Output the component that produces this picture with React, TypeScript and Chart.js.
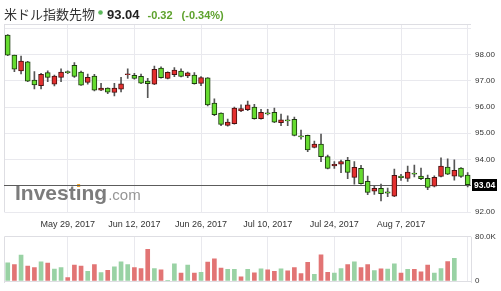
import { useEffect, useRef } from "react";
import { Chart, registerables } from "chart.js";

Chart.register(...registerables);

const TITLE = "米ドル指数先物";
const LAST_PRICE = 93.04;
const CHANGE = "-0.32";
const CHANGE_PCT = "(-0.34%)";

const DATES = [
  "May 16, 2017", "May 17, 2017", "May 18, 2017", "May 19, 2017", "May 22, 2017", "May 23, 2017", "May 24, 2017", "May 25, 2017", "May 26, 2017", "May 29, 2017",
  "May 30, 2017", "May 31, 2017", "Jun 1, 2017", "Jun 2, 2017", "Jun 5, 2017", "Jun 6, 2017", "Jun 7, 2017", "Jun 8, 2017", "Jun 9, 2017", "Jun 12, 2017",
  "Jun 13, 2017", "Jun 14, 2017", "Jun 15, 2017", "Jun 16, 2017", "Jun 19, 2017", "Jun 20, 2017", "Jun 21, 2017", "Jun 22, 2017", "Jun 23, 2017", "Jun 26, 2017",
  "Jun 27, 2017", "Jun 28, 2017", "Jun 29, 2017", "Jun 30, 2017", "Jul 3, 2017", "Jul 4, 2017", "Jul 5, 2017", "Jul 6, 2017", "Jul 7, 2017", "Jul 10, 2017",
  "Jul 11, 2017", "Jul 12, 2017", "Jul 13, 2017", "Jul 14, 2017", "Jul 17, 2017", "Jul 18, 2017", "Jul 19, 2017", "Jul 20, 2017", "Jul 21, 2017", "Jul 24, 2017",
  "Jul 25, 2017", "Jul 26, 2017", "Jul 27, 2017", "Jul 28, 2017", "Jul 31, 2017", "Aug 1, 2017", "Aug 2, 2017", "Aug 3, 2017", "Aug 4, 2017", "Aug 7, 2017",
  "Aug 8, 2017", "Aug 9, 2017", "Aug 10, 2017", "Aug 11, 2017", "Aug 14, 2017", "Aug 15, 2017", "Aug 16, 2017", "Aug 17, 2017", "Aug 18, 2017", "Aug 21, 2017",
];

const OPEN = [
  98.74, 97.98, 97.38, 97.72, 97.03, 96.81, 97.31, 96.87, 97.13, 97.35,
  97.59, 97.33, 96.94, 97.18, 96.64, 96.72, 96.56, 96.68, 97.23, 97.21,
  97.17, 96.99, 96.87, 97.48, 97.09, 97.23, 97.37, 97.19, 97.22, 96.90,
  97.11, 96.15, 95.77, 95.30, 95.37, 95.85, 95.90, 96.00, 95.56, 95.78,
  95.80, 95.40, 95.51, 95.53, 94.90, 94.92, 94.46, 94.59, 94.11, 93.76,
  93.82, 93.97, 93.32, 93.66, 93.17, 92.79, 92.90, 92.77, 92.60, 93.37,
  93.28, 93.48, 93.37, 93.28, 92.98, 93.36, 93.71, 93.37, 93.67, 93.41,
];
const HIGH = [
  98.76, 97.98, 97.94, 97.74, 97.35, 97.28, 97.38, 97.22, 97.46, 97.38,
  97.69, 97.37, 97.26, 97.25, 96.90, 96.73, 96.90, 97.13, 97.46, 97.28,
  97.26, 97.09, 97.56, 97.53, 97.34, 97.50, 97.46, 97.33, 97.31, 97.16,
  97.12, 96.31, 95.78, 95.54, 96.00, 96.08, 96.23, 96.10, 95.91, 95.91,
  95.96, 95.73, 95.66, 95.62, 95.12, 94.93, 94.70, 94.97, 94.17, 93.92,
  93.98, 94.08, 93.92, 93.78, 93.37, 93.00, 93.06, 92.91, 93.64, 93.44,
  93.75, 93.79, 93.67, 93.41, 93.38, 94.06, 94.03, 93.99, 93.69, 93.50,
];
const LOW = [
  97.96, 97.35, 97.26, 96.97, 96.69, 96.69, 96.97, 96.80, 96.97, 97.27,
  97.13, 96.82, 96.87, 96.61, 96.62, 96.51, 96.42, 96.58, 97.09, 97.06,
  96.89, 96.36, 96.85, 97.10, 97.07, 97.16, 97.15, 97.12, 96.87, 96.81,
  96.04, 95.67, 95.29, 95.27, 95.35, 95.82, 95.86, 95.54, 95.54, 95.70,
  95.40, 95.29, 95.29, 94.90, 94.78, 94.30, 94.44, 93.92, 93.64, 93.66,
  93.50, 93.27, 93.06, 93.06, 92.66, 92.67, 92.42, 92.58, 92.58, 93.20,
  93.17, 93.34, 93.23, 92.85, 92.96, 93.34, 93.42, 93.21, 93.32, 92.96,
];
const CLOSE = [
  97.98, 97.44, 97.75, 96.99, 96.84, 97.25, 97.13, 97.18, 97.33, 97.31,
  97.17, 96.83, 97.13, 96.64, 96.72, 96.57, 96.72, 96.88, 97.27, 97.09,
  96.91, 96.89, 97.44, 97.12, 97.32, 97.41, 97.17, 97.30, 96.89, 97.12,
  96.08, 95.71, 95.34, 95.43, 95.96, 95.94, 96.08, 95.56, 95.80, 95.74,
  95.42, 95.51, 95.47, 94.92, 94.86, 94.37, 94.59, 94.11, 93.66, 93.82,
  93.92, 93.51, 93.70, 93.08, 92.75, 92.90, 92.70, 92.72, 93.40, 93.31,
  93.52, 93.44, 93.27, 92.94, 93.32, 93.75, 93.44, 93.59, 93.36, 93.04,
];
const VOLUME = [
  33000, 29600, 47000, 27200, 24300, 34800, 32500, 21400, 24300, 6400,
  29000, 27200, 17400, 29600, 15100, 19100, 25500, 34800, 29600, 24300,
  22600, 57400, 22600, 20300, 1200, 31300, 14500, 29000, 14500, 15700,
  34200, 40000, 23200, 20900, 20900, 7500, 20900, 15000, 22000, 20000,
  17400, 22000, 18600, 24300, 13300, 33600, 12000, 47500, 15700, 14500,
  22600, 29600, 34800, 24300, 29600, 19000, 22000, 21400, 31300, 14500,
  20900, 20900, 16800, 29000, 14500, 22600, 35300, 41200, null, null,
];

const TICK_DATES = ["May 29, 2017", "Jun 12, 2017", "Jun 26, 2017", "Jul 10, 2017", "Jul 24, 2017", "Aug 7, 2017"];
const GRID_DATES = [...TICK_DATES, "Aug 21, 2017"];
const PRICE_TICKS = [92, 93, 94, 95, 96, 97, 98, 99];
const PRICE_LABELED = [92, 93, 94, 95, 96, 97, 98];
const VOLUME_TICKS = [0, 80000];

const FONT = '"Liberation Sans", Arial, sans-serif';
const GRID = "#e9e9ee";
const UP_FILL = "#e3302f";
const UP_EDGE = "#4a1212";
const DOWN_FILL = "#66db30";
const DOWN_EDGE = "#1e3a10";
const VOL_UP = "#99d2a4";
const VOL_DOWN = "#e27474";

const AREA_LEFT = 4.4;
const AXIS_W = 30;

const gridColor = (ctx: any) =>
  GRID_DATES.includes(DATES[ctx.index]) ? GRID : "rgba(0,0,0,0)";

const pricePlugin = {
  id: "priceDecor",
  beforeDatasetsDraw(chart: any) {
    const { ctx, chartArea: a, scales } = chart;
    ctx.save();
    ctx.strokeStyle = "#dedee3";
    ctx.lineWidth = 1;
    ctx.beginPath();
    ctx.moveTo(4, 24.5);
    ctx.lineTo(a.right, 24.5);
    ctx.moveTo(4.5, 24.5);
    ctx.lineTo(4.5, a.bottom);
    ctx.stroke();

    // watermark
    ctx.textBaseline = "alphabetic";
    ctx.textAlign = "left";
    ctx.font = `bold 21px ${FONT}`;
    ctx.fillStyle = "#7c7c7c";
    const wx = 15;
    ctx.fillText("Investing", wx, 200);
    const w = ctx.measureText("Investing").width;
    const wi = ctx.measureText("Investi").width;
    const wI = ctx.measureText("i").width;
    ctx.fillStyle = "#f0a830";
    ctx.fillRect(wx + wi - wI / 2 - 1.5, 184, 3, 3);
    ctx.font = `15px ${FONT}`;
    ctx.fillStyle = "#959595";
    ctx.fillText(".com", wx + w + 1, 200);

    // last price line
    const py = Math.round(scales.y.getPixelForValue(LAST_PRICE)) + 0.5;
    ctx.strokeStyle = "#5c5c5c";
    ctx.beginPath();
    ctx.moveTo(4, py);
    ctx.lineTo(a.right, py);
    ctx.stroke();
    ctx.restore();
  },
  afterDraw(chart: any) {
    const { ctx, chartArea: a, scales } = chart;
    ctx.save();
    const py = Math.round(scales.y.getPixelForValue(LAST_PRICE));
    ctx.fillStyle = "#000";
    ctx.fillRect(a.right + 1, py - 6, 25, 12);
    ctx.fillStyle = "#fff";
    ctx.font = `bold 8.5px ${FONT}`;
    ctx.textBaseline = "middle";
    ctx.textAlign = "left";
    ctx.fillText(LAST_PRICE.toFixed(2), a.right + 3, py + 0.5);

    // title
    ctx.textBaseline = "alphabetic";
    ctx.font = `13px "Noto Sans CJK JP", sans-serif`;
    ctx.fillStyle = "#333";
    ctx.fillText(TITLE, 4, 19);
    const tw = ctx.measureText(TITLE).width;
    ctx.fillStyle = "#5cb85c";
    ctx.beginPath();
    ctx.arc(4 + tw + 5.5, 12.5, 2.3, 0, Math.PI * 2);
    ctx.fill();
    ctx.font = `bold 13px ${FONT}`;
    ctx.fillStyle = "#222";
    const px = 4 + tw + 12;
    ctx.fillText(LAST_PRICE.toFixed(2), px, 19);
    const pw = ctx.measureText(LAST_PRICE.toFixed(2)).width;
    ctx.font = `bold 11px ${FONT}`;
    ctx.fillStyle = "#5ea22d";
    const cx = px + pw + 8;
    ctx.fillText(CHANGE, cx, 19);
    const cw = ctx.measureText(CHANGE).width;
    ctx.fillText(CHANGE_PCT, cx + cw + 9, 19);
    ctx.restore();
  },
};

const volumePlugin = {
  id: "volDecor",
  beforeDatasetsDraw(chart: any) {
    const { ctx, chartArea: a } = chart;
    ctx.save();
    ctx.strokeStyle = "#dedee3";
    ctx.lineWidth = 1;
    ctx.beginPath();
    ctx.moveTo(4.5, a.top);
    ctx.lineTo(4.5, a.bottom + 2);
    ctx.moveTo(a.right + 0.5, a.top);
    ctx.lineTo(a.right + 0.5, a.bottom + 2);
    ctx.stroke();
    ctx.restore();
  },
};

function PriceChart() {
  const ref = useRef<HTMLCanvasElement>(null);
  useEffect(() => {
    const bodyColors = OPEN.map((o, i) => (CLOSE[i] < o ? DOWN_FILL : UP_FILL));
    const edgeColors = OPEN.map((o, i) => (CLOSE[i] < o ? DOWN_EDGE : UP_EDGE));
    const chart = new Chart(ref.current!, {
      type: "bar",
      data: {
        labels: DATES,
        datasets: [
          {
            data: LOW.map((l, i) => [l, HIGH[i]]) as any,
            backgroundColor: "#555",
            barThickness: 1,
            grouped: false,
            order: 2,
          },
          {
            data: OPEN.map((o, i) => [o, CLOSE[i]]) as any,
            backgroundColor: bodyColors,
            borderColor: edgeColors,
            borderWidth: 1,
            borderSkipped: false,
            barThickness: 5,
            grouped: false,
            order: 1,
          },
        ],
      },
      options: {
        animation: false,
        responsive: false,
        devicePixelRatio: 1,
        events: [],
        layout: { padding: { left: AREA_LEFT, right: 0, top: 25, bottom: 0 } },
        plugins: { legend: { display: false }, tooltip: { enabled: false } },
        scales: {
          x: {
            type: "category",
            offset: true,
            afterFit: (s: any) => {
              s.height = 23;
            },
            grid: { offset: false, color: gridColor, drawTicks: false },
            border: { display: false },
            ticks: {
              autoSkip: false,
              maxRotation: 0,
              padding: 7,
              color: "#333",
              font: { family: FONT, size: 9 },
              callback: function (this: any, v: any) {
                const l = DATES[v as number];
                return TICK_DATES.includes(l) ? l : "";
              },
            },
          },
          y: {
            position: "right",
            min: 92,
            max: 99.126,
            afterFit: (s: any) => {
              s.width = AXIS_W;
            },
            afterBuildTicks: (s: any) => {
              s.ticks = PRICE_TICKS.map((v) => ({ value: v }));
            },
            grid: { color: GRID, drawTicks: false },
            border: { display: false },
            ticks: {
              padding: 4,
              color: "#333",
              font: { family: FONT, size: 8 },
              callback: (v: any) => (PRICE_LABELED.includes(v) ? Number(v).toFixed(2) : ""),
            },
          },
        },
      },
      plugins: [pricePlugin],
    });
    return () => chart.destroy();
  }, []);
  return (
    <canvas
      ref={ref}
      width={501}
      height={235}
      style={{ position: "absolute", left: 0, top: 0, width: 501, height: 235 }}
    />
  );
}

function VolumeChart() {
  const ref = useRef<HTMLCanvasElement>(null);
  useEffect(() => {
    const colors = CLOSE.map((c, i) => (i === 0 || c >= CLOSE[i - 1] ? VOL_UP : VOL_DOWN));
    const chart = new Chart(ref.current!, {
      type: "bar",
      data: {
        labels: DATES,
        datasets: [
          {
            data: VOLUME as any,
            backgroundColor: colors,
            barThickness: 4,
          },
        ],
      },
      options: {
        animation: false,
        responsive: false,
        devicePixelRatio: 1,
        events: [],
        layout: { padding: { left: AREA_LEFT, right: 0, top: 7, bottom: 10 } },
        plugins: { legend: { display: false }, tooltip: { enabled: false } },
        scales: {
          x: {
            type: "category",
            offset: true,
            afterFit: (s: any) => {
              s.height = 0;
            },
            grid: { offset: false, color: gridColor, drawTicks: false },
            border: { display: false },
            ticks: { display: false, autoSkip: false },
          },
          y: {
            position: "right",
            min: 0,
            max: 80000,
            afterFit: (s: any) => {
              s.width = AXIS_W;
            },
            afterBuildTicks: (s: any) => {
              s.ticks = VOLUME_TICKS.map((v) => ({ value: v }));
            },
            grid: { color: "#dedee3", drawTicks: false },
            border: { display: false },
            ticks: {
              padding: 4,
              color: "#333",
              font: { family: FONT, size: 8 },
              callback: (v: any) => (v === 0 ? "0" : (Number(v) / 1000).toFixed(1) + "K"),
            },
          },
        },
      },
      plugins: [volumePlugin],
    });
    return () => chart.destroy();
  }, []);
  return (
    <canvas
      ref={ref}
      width={501}
      height={63}
      style={{ position: "absolute", left: 0, top: 228, width: 501, height: 63 }}
    />
  );
}

export default function App() {
  return (
    <div
      style={{
        position: "absolute",
        left: 0,
        top: 0,
        width: 501,
        height: 291,
        background: "#fff",
        overflow: "hidden",
      }}
    >
      <PriceChart />
      <VolumeChart />
    </div>
  );
}
